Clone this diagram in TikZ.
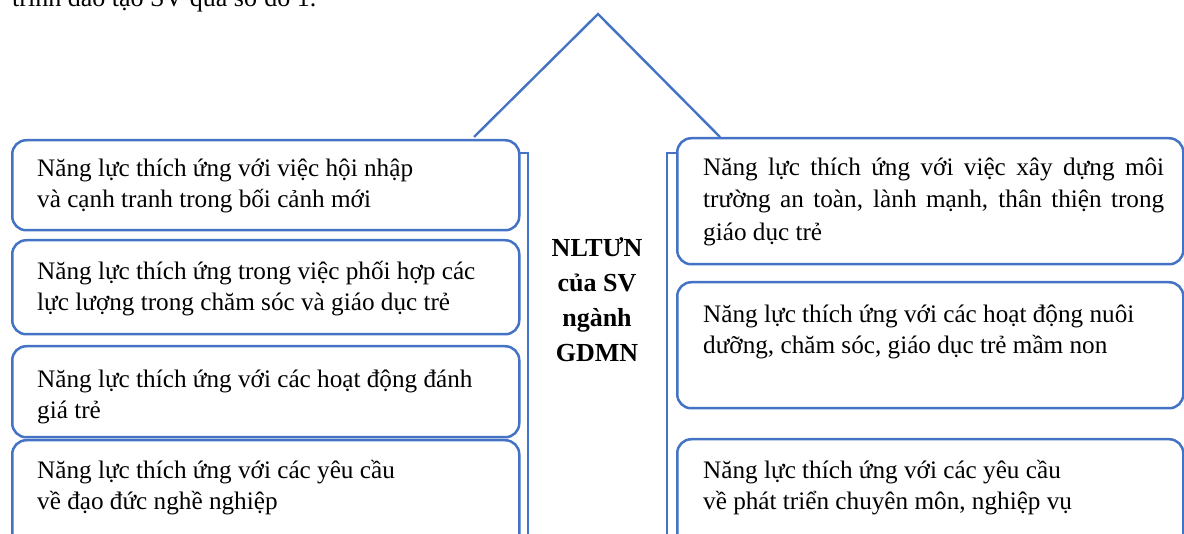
\documentclass[tikz,border=0pt]{standalone}
\usepackage{fontspec}
\setmainfont{Liberation Serif}
\definecolor{obl}{HTML}{4472C4}
\begin{document}
\begin{tikzpicture}[x=1pt,y=-1pt,
  box/.style={draw=obl, line width=2.5pt, rounded corners=14pt, fill=white, inner sep=0pt, anchor=north west},
  frameline/.style={draw=obl, line width=2.5pt},
  roofline/.style={draw=obl, line width=2.4pt},
  txt/.style={font=\fontsize{25.2}{31}\selectfont, align=left, inner sep=0pt, anchor=west},
  captxt/.style={font=\fontsize{26}{31}\selectfont, inner sep=0pt, anchor=base west},
  midtxt/.style={font=\bfseries\fontsize{26}{35}\selectfont, align=center, inner sep=0pt}
]
\useasboundingbox (0,0) rectangle (1184,534);
\clip (0,0) rectangle (1184,534);

% cropped caption line at the very top
\node[captxt] (cap) at (12,7) {trình đào tạo SV qua sơ đồ 1.};

% roof
\coordinate (apex) at (598,14);
\coordinate (roofL) at (474,137);
\coordinate (roofR) at (720,137);
\draw[roofline] (roofL) -- (apex) -- (roofR);

% column frames
\coordinate (fl0) at (515,153);
\coordinate (fl1) at (528,153);
\coordinate (fl2) at (528,560);
\coordinate (fr0) at (680,153);
\coordinate (fr1) at (667,153);
\coordinate (fr2) at (667,560);
\draw[frameline] (fl0) -- (fl1) -- (fl2);
\draw[frameline] (fr0) -- (fr1) -- (fr2);

% left boxes
\node[box, minimum width=507pt, minimum height=90pt] (l1) at (11,139) {};
\node[box, minimum width=507pt, minimum height=94pt] (l2) at (11,239) {};
\node[box, minimum width=507pt, minimum height=91pt] (l3) at (11,345) {};
\node[box, minimum width=507pt, minimum height=120pt] (l4) at (11,439) {};

% right boxes
\node[box, minimum width=506pt, minimum height=126pt] (r1) at (676,137) {};
\node[box, minimum width=506pt, minimum height=126pt] (r2) at (676,281) {};
\node[box, minimum width=506pt, minimum height=120pt] (r3) at (676,438) {};

% left texts
\node[txt] (tl1) at (37,186) {Năng lực thích ứng với việc hội nhập\\và cạnh tranh trong bối cảnh mới};
\node[txt] (tl2) at (37,288.5) {Năng lực thích ứng trong việc phối hợp các\\lực lượng trong chăm sóc và giáo dục trẻ};
\node[txt] (tl3) at (37,396.5) {Năng lực thích ứng với các hoạt động đánh\\giá trẻ};
\node[txt] (tl4) at (37,488) {Năng lực thích ứng với các yêu cầu\\về đạo đức nghề nghiệp};

% right texts
\node[txt, font=\fontsize{25.2}{32.5}\selectfont] (tr1) at (703,201.5) {\makebox[461pt][s]{Năng lực thích ứng với việc xây dựng môi}\\\makebox[461pt][s]{trường an toàn, lành mạnh, thân thiện trong}\\giáo dục trẻ};
\node[txt] (tr2) at (703,331.5) {Năng lực thích ứng với các hoạt động nuôi\\dưỡng, chăm sóc, giáo dục trẻ mầm non};
\node[txt] (tr3) at (703,487.5) {Năng lực thích ứng với các yêu cầu\\về phát triển chuyên môn, nghiệp vụ};

% centre label
\node[midtxt] (mid) at (597,300) {NLTƯN\\của SV\\ngành\\GDMN};
\end{tikzpicture}
\end{document}
